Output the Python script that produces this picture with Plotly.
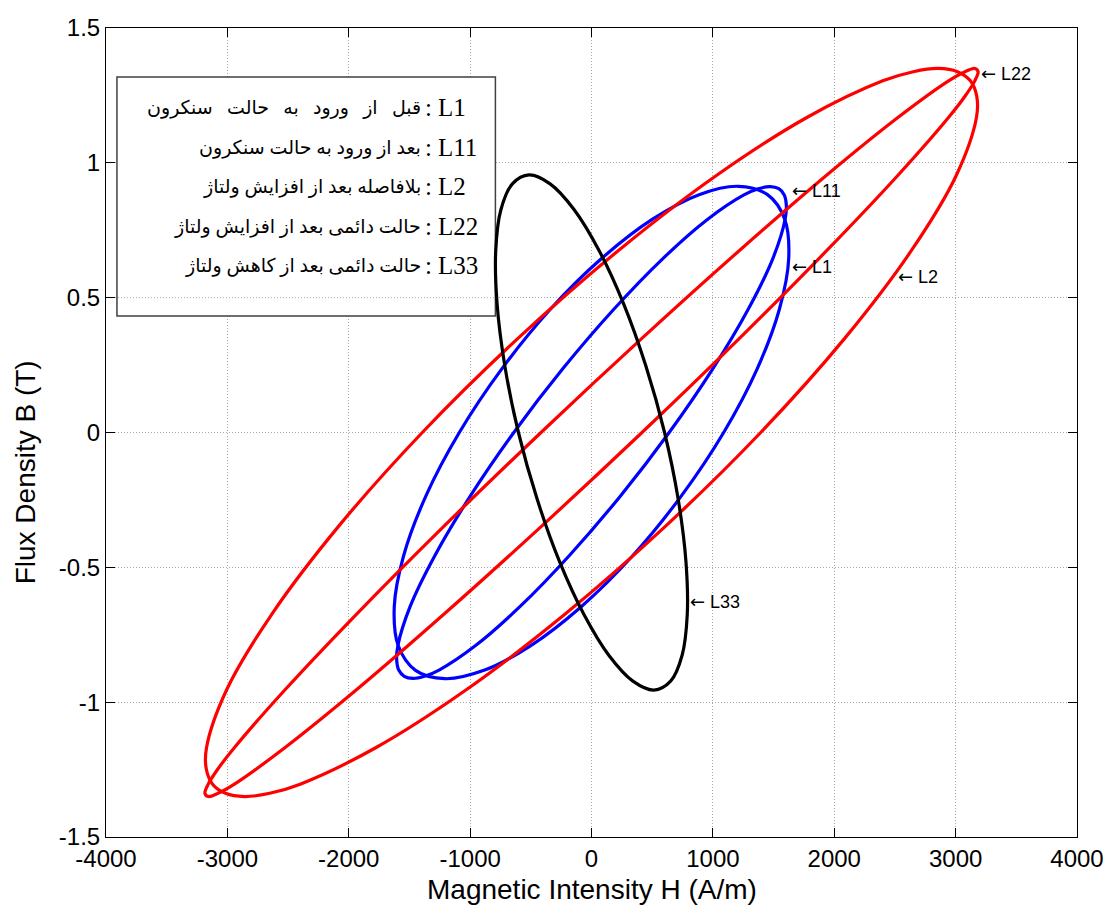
import plotly.graph_objects as go

# ---- B-H loops (H in A/m, B in T), traced around each loop ----
l1_h = [1089, 1365, 1548, 1625, 1592, 1450, 1209, 886, 503, 85, -339, -739,
        -1089, -1365, -1548, -1625, -1592, -1450, -1209, -886, -503, -85, 339, 739, 1089]
l1_b = [0.0, 0.236, 0.457, 0.646, 0.791, 0.882, 0.913, 0.882, 0.791, 0.646, 0.457, 0.236,
        0.0, -0.236, -0.457, -0.646, -0.791, -0.882, -0.913, -0.882, -0.791, -0.646, -0.457, -0.236, 0.0]

l11_h = [640, 999, 1290, 1494, 1595, 1605, 1588, 1543, 1472, 1375, 1256, 955, 588, 182, -237,
         -640, -999, -1290, -1494, -1595, -1605, -1588, -1543, -1472, -1375, -1256, -955, -588, -182, 237, 640]
l11_b = [0.0, 0.236, 0.456, 0.645, 0.790, 0.843, 0.881, 0.904, 0.912, 0.904, 0.881, 0.790, 0.645, 0.456, 0.236,
         0.0, -0.236, -0.456, -0.645, -0.790, -0.843, -0.881, -0.904, -0.912, -0.904, -0.881, -0.790, -0.645,
         -0.456, -0.236, 0.0]

l2_h = [1394, 2086, 2636, 3007, 3172, 3174, 3122, 3015, 2858, 2651, 2400, 1778, 1035, 222, -606,
        -1394, -2086, -2636, -3007, -3172, -3174, -3122, -3015, -2858, -2651, -2400, -1778, -1035, -222, 606, 1394]
l2_b = [0.0, 0.349, 0.675, 0.955, 1.169, 1.247, 1.304, 1.338, 1.350, 1.338, 1.304, 1.169, 0.955, 0.675, 0.349,
        0.0, -0.349, -0.675, -0.955, -1.169, -1.247, -1.304, -1.338, -1.350, -1.338, -1.304, -1.169, -0.955,
        -0.675, -0.349, 0.0]

l22_h = [416, 1219, 1939, 2527, 2943, 3077, 3158, 3185, 3158, 3077, 2942, 2527, 1939, 1219, 415,
         -416, -1219, -1939, -2527, -2943, -3077, -3158, -3185, -3158, -3077, -2942, -2527, -1939, -1219, -415, 416]
l22_b = [0.0, 0.349, 0.675, 0.955, 1.169, 1.247, 1.304, 1.338, 1.350, 1.338, 1.304, 1.169, 0.955, 0.675, 0.349,
         0.0, -0.349, -0.675, -0.955, -1.169, -1.247, -1.304, -1.338, -1.350, -1.338, -1.304, -1.169, -0.955,
         -0.675, -0.349, 0.0]

l33_h = [602, 448, 264, 62, -144, -341, -514, -652, -746, -789, -778, -714,
         -602, -448, -264, -62, 144, 341, 514, 652, 746, 789, 778, 714, 602]
l33_b = [0.0, 0.247, 0.478, 0.675, 0.827, 0.922, 0.955, 0.922, 0.827, 0.675, 0.478, 0.247,
         0.0, -0.247, -0.478, -0.675, -0.827, -0.922, -0.955, -0.922, -0.827, -0.675, -0.478, -0.247, 0.0]

x_ticks = [-4000, -3000, -2000, -1000, 0, 1000, 2000, 3000, 4000]
y_ticks = [-1.5, -1, -0.5, 0, 0.5, 1, 1.5]
y_tick_text = ["-1.5", "-1", "-0.5", "0", "0.5", "1", "1.5"]

# curve tags placed next to each loop
tag_names = ["L22", "L11", "L1", "L2", "L33"]
tag_h = [3192, 1635, 1635, 2512, 791]
tag_b = [1.332, 0.898, 0.617, 0.580, -0.626]

# legend rows (label, description)
legend_labels = ["L1", "L11", "L2", "L22", "L33"]
legend_texts = [
    "قبل   از   ورود   به   حالت   سنکرون",
    "بعد از ورود به حالت سنکرون",
    "بلافاصله بعد از افزایش ولتاژ",
    "حالت دائمی بعد از افزایش ولتاژ",
    "حالت دائمی بعد از کاهش ولتاژ",
]

W, H = 1116, 909
ML, MR, MT, MB = 106, 35, 28, 72
X0, X1 = -4000, 4000
Y0, Y1 = -1.5, 1.5
PW, PH = W - ML - MR, H - MT - MB


def px_x(px):
    return X0 + (px - ML) * (X1 - X0) / PW


def px_y(py):
    return Y1 - (py - MT) * (Y1 - Y0) / PH


fig = go.Figure()

loops = [
    (l1_h, l1_b, "#0000ff"),
    (l11_h, l11_b, "#0000ff"),
    (l2_h, l2_b, "#ff0000"),
    (l22_h, l22_b, "#ff0000"),
    (l33_h, l33_b, "#000000"),
]
for hx, by, col in loops:
    fig.add_trace(go.Scatter(
        x=hx, y=by, mode="lines",
        line=dict(color=col, width=3.2, shape="spline", smoothing=1.0),
        hoverinfo="skip", showlegend=False,
    ))

sans = "Liberation Sans, Arial, sans-serif"
annotations = []
for name, hx, by in zip(tag_names, tag_h, tag_b):
    annotations.append(dict(
        x=hx, y=by, xref="x", yref="y",
        text='<span style="font-family:DejaVu Sans">\u2190</span> ' + name,
        showarrow=False, xanchor="left", yanchor="middle",
        font=dict(family=sans, size=18, color="#000000"),
    ))

row_y = [107, 147, 186, 226, 265]
serif = "Liberation Serif, Times New Roman, DejaVu Sans, serif"
for lab, txt, ry in zip(legend_labels, legend_texts, row_y):
    annotations.append(dict(
        x=px_x(437), y=px_y(ry), xref="x", yref="y", text=lab, showarrow=False,
        xanchor="left", yanchor="middle", font=dict(family=serif, size=25, color="#000000"),
    ))
    annotations.append(dict(
        x=px_x(430), y=px_y(ry), xref="x", yref="y", text=":", showarrow=False,
        xanchor="center", yanchor="middle", font=dict(family=serif, size=25, color="#000000"),
    ))
    annotations.append(dict(
        x=px_x(424), y=px_y(ry + 1), xref="x", yref="y", text=txt, showarrow=False,
        xanchor="right", yanchor="middle", font=dict(family=serif, size=19, color="#000000"),
    ))

# axis titles
annotations.append(dict(
    x=(593.5 - ML) / PW, y=-(889 - MT - PH) / PH, xref="paper", yref="paper",
    text="Magnetic Intensity H (A/m)", showarrow=False, xanchor="center", yanchor="middle",
    font=dict(family=sans, size=28, color="#000000"),
))
annotations.append(dict(
    x=-(ML - 25) / PW, y=1 - (472 - MT) / PH, xref="paper", yref="paper",
    text="Flux Density B (T)", textangle=-90, showarrow=False,
    xanchor="center", yanchor="middle",
    font=dict(family=sans, size=28, color="#000000"),
))

shapes = [
    dict(type="rect", xref="x", yref="y", x0=px_x(117), x1=px_x(497), y0=px_y(316), y1=px_y(77),
         line=dict(color="#404040", width=1.5), fillcolor="#ffffff", layer="between"),
    dict(type="line", xref="x", yref="y", x0=px_x(118), x1=px_x(496), y0=0.5, y1=0.5,
         line=dict(color="#a8a8a8", width=1, dash="1px,2px"), layer="between"),
]

axis_common = dict(
    showline=True, linecolor="#000000", linewidth=1, mirror="ticks",
    ticks="inside", ticklen=9, tickcolor="#000000", tickwidth=1,
    showgrid=True, gridcolor="#a8a8a8", gridwidth=1, griddash="1px,2px",
    zeroline=False,
    tickfont=dict(family=sans, size=24, color="#000000"),
)

fig.update_layout(
    width=W, height=H,
    margin=dict(l=ML, r=MR, t=MT, b=MB),
    paper_bgcolor="#ffffff", plot_bgcolor="#ffffff",
    xaxis=dict(range=[X0, X1], tickvals=x_ticks, ticktext=[str(v) for v in x_ticks], **axis_common),
    yaxis=dict(range=[Y0, Y1], tickvals=y_ticks, ticktext=y_tick_text, **axis_common),
    annotations=annotations,
    shapes=shapes,
)

fig.write_html("out.html")
